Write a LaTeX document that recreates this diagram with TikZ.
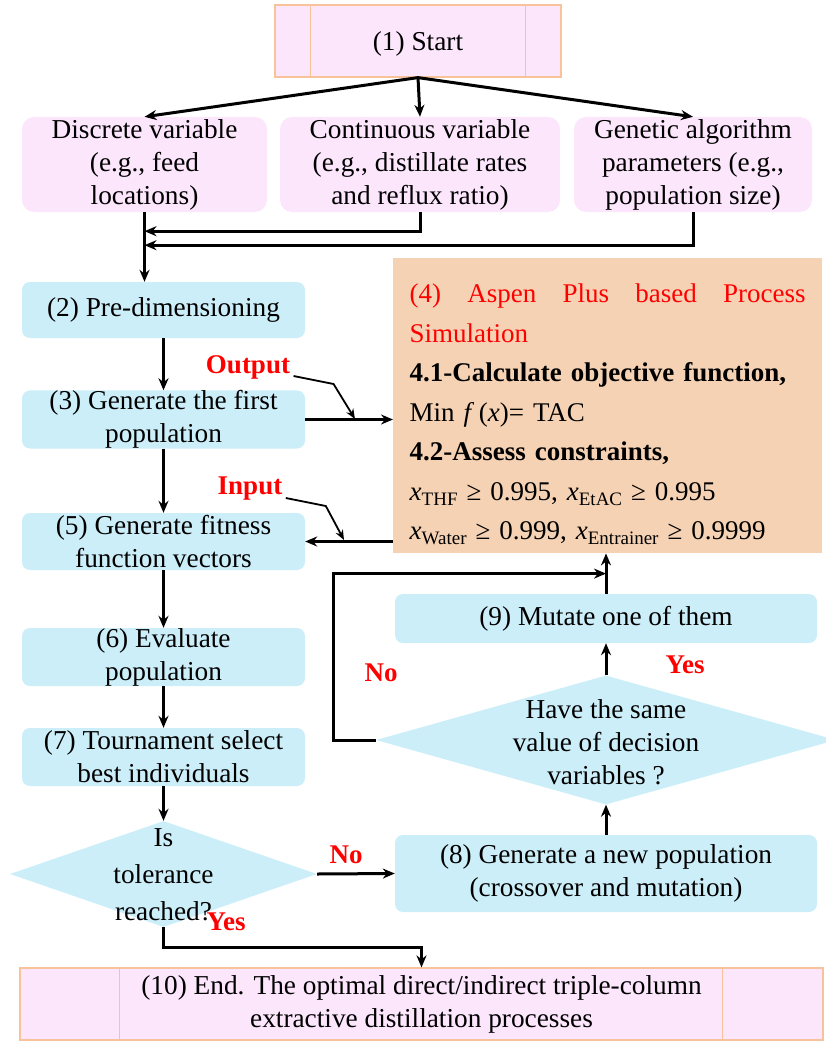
\documentclass[tikz,border=0pt]{standalone}
\usepackage{fontspec}
\setmainfont{LiberationSerif}[Extension=.ttf,UprightFont=*-Regular,BoldFont=*-Bold,ItalicFont=*-Italic,BoldItalicFont=*-BoldItalic]
\usetikzlibrary{arrows.meta,positioning,shapes.geometric,calc}
\definecolor{blush}{HTML}{FCE6FC}
\definecolor{peach}{HTML}{F8C39B}
\definecolor{ice}{HTML}{CCEEF9}
\definecolor{sand}{HTML}{F5D2B3}
\newcommand{\sbs}[1]{\raisebox{-5pt}{\fontsize{19}{19}\selectfont #1}}
\begin{document}
\begin{tikzpicture}[x=1pt,y=-1pt,
   every node/.style={font=\fontsize{27.3}{33}\selectfont},
   pk/.style={draw=peach,line width=1.2pt,fill=blush,inner sep=0pt,align=center},
   vb/.style={fill=blush,rounded corners=12pt,align=center,inner sep=0pt},
   bb/.style={fill=ice,rounded corners=8pt,align=center,inner sep=0pt},
   dm/.style={diamond,fill=ice,inner sep=0pt},
   lb/.style={font=\fontsize{27}{27}\selectfont\bfseries,text=red},
   a/.style={-{Stealth[length=12pt,width=10pt]},line width=3pt},
   ptr/.style={-{Stealth[length=10pt,width=8pt]},line width=1.8pt}]
  \useasboundingbox (0,0) rectangle (826,1043);
  % start and inputs
  \node[pk,minimum width=286pt,minimum height=72pt] (st) at (418,41) {\rule{0pt}{24pt}(1) Start};
  \draw[peach,line width=1.2pt] ([xshift=36pt]st.north west) -- ([xshift=36pt]st.south west);
  \draw[peach,line width=1.2pt] ([xshift=-36pt]st.north east) -- ([xshift=-36pt]st.south east);
  \node[vb,minimum width=245pt,minimum height=95pt] (dv) at (144.5,164.5) {Discrete variable\\(e.g., feed\\locations)};
  \node[vb,minimum width=280pt,minimum height=95pt] (cv) at (420,164.5) {Continuous variable\\(e.g., distillate rates\\and reflux ratio)};
  \node[vb,minimum width=238pt,minimum height=95pt] (ga) at (693,164.5) {Genetic algorithm\\parameters (e.g.,\\population size)};
  % left column
  \node[bb,minimum width=283pt,minimum height=56pt] (pre) at (163.5,310) {(2) Pre-dimensioning};
  \node[bb,minimum width=283pt,minimum height=55pt] (gen) at (163.5,419.5) {(3) Generate the first\\population};
  \node[bb,minimum width=283pt,minimum height=57pt] (fit) at (163.5,541.5) {(5) Generate fitness\\function vectors};
  \node[bb,minimum width=283pt,minimum height=58pt] (eva) at (163.5,657) {(6) Evaluate\\population};
  \node[bb,minimum width=283pt,minimum height=58pt] (tour) at (163.5,757) {(7) Tournament select\\best individuals};
  \node[dm,minimum width=307pt,minimum height=106pt] (tol) at (163.5,874) {};
  \node[align=center,font=\fontsize{27.3}{37}\selectfont] (tolt) at (163.5,875) {Is\\tolerance\\reached?};
  % right column
  \node[fill=sand,minimum width=429pt,minimum height=295pt,text width=396pt,align=left,inner xsep=16.5pt,
        anchor=north west,font=\fontsize{27}{39.5}\selectfont] (sim) at (393,258)
       {\textcolor{red}{\hbox to 396pt{\rule{0pt}{36pt}(4)\hfill Aspen\hfill Plus\hfill based\hfill Process}}\\
        \textcolor{red}{Simulation}\\
        \textbf{4.1-Calculate objective function,}\\
        Min \textit{f}\,(\textit{x})= TAC\\
        \textbf{4.2-Assess constraints,}\\
        \textit{x}\sbs{THF} ≥ 0.995, \textit{x}\sbs{EtAC} ≥ 0.995\\
        \textit{x}\sbs{Water} ≥ 0.999, \textit{x}\sbs{Entrainer} ≥ 0.9999};
  \node[bb,minimum width=422pt,minimum height=49pt] (mut) at (606,618.5) {(9) Mutate one of them};
  \node[dm,minimum width=460pt,minimum height=129pt] (same) at (606,740) {};
  \node[align=center] (samet) at (606,742) {Have the same\\value of decision\\variables ?};
  \node[bb,minimum width=422pt,minimum height=77pt] (new) at (606,873.5) {(8) Generate a new population\\(crossover and mutation)};
  \node[pk,minimum width=803pt,minimum height=72pt] (en) at (421.5,1004) {(10) End. The optimal direct/indirect triple-column\\extractive distillation processes};
  \draw[peach,line width=1.2pt] ([xshift=100pt]en.north west) -- ([xshift=100pt]en.south west);
  \draw[peach,line width=1.2pt] ([xshift=-101pt]en.north east) -- ([xshift=-101pt]en.south east);
  % connectors
  \draw[a] (st.south) -- (dv.north);
  \draw[a] (st.south) -- (cv.north);
  \draw[a] (st.south) -- (ga.north);
  \draw[a] (cv.south) |- ([yshift=-19pt]dv.south);
  \draw[a] (ga.south) |- ([yshift=-33pt]dv.south);
  \draw[a] (dv.south) -- (dv.south |- pre.north);
  \draw[a] (pre) -- (gen);
  \draw[a] (gen) -- (fit);
  \draw[a] (fit) -- (eva);
  \draw[a] (eva) -- (tour);
  \draw[a] (tour) -- (tol.north);
  \draw[a] (gen.east) -- (gen.east -| sim.west);
  \draw[a] (fit.east -| sim.west) -- (fit.east);
  \draw[a] (tol.east) -- (new.west);
  \draw[a] (tol.south) -- ++(0,20) -| (en.north);
  \draw[a] (new.north) -- (same.south);
  \draw[a] (same.north) -- (mut.south);
  \draw[a] (mut.north) -- (mut.north |- sim.south);
  \coordinate (jn) at ($(mut.north)!0.5!(mut.north |- sim.south)$);
  \draw[a] (same.west) -- ++(-42,0) |- (jn);
  % labels
  \node[lb] (outl) at (248,367) {Output};
  \node[lb] (inl) at (250,489) {Input};
  \coordinate (outtip) at (355,419);
  \coordinate (intip) at (344,540);
  \draw[ptr] ([yshift=-9pt]outl.east) -- ++(40,8) -- (outtip);
  \draw[ptr] ([yshift=-9pt]inl.east) -- ++(40,8) -- (intip);
  \node[lb] (no1) at (346,855) {No};
  \node[lb] (yes1) at (226,922) {Yes};
  \node[lb] (no2) at (381,673) {No};
  \node[lb] (yes2) at (685,665) {Yes};
\end{tikzpicture}
\end{document}
